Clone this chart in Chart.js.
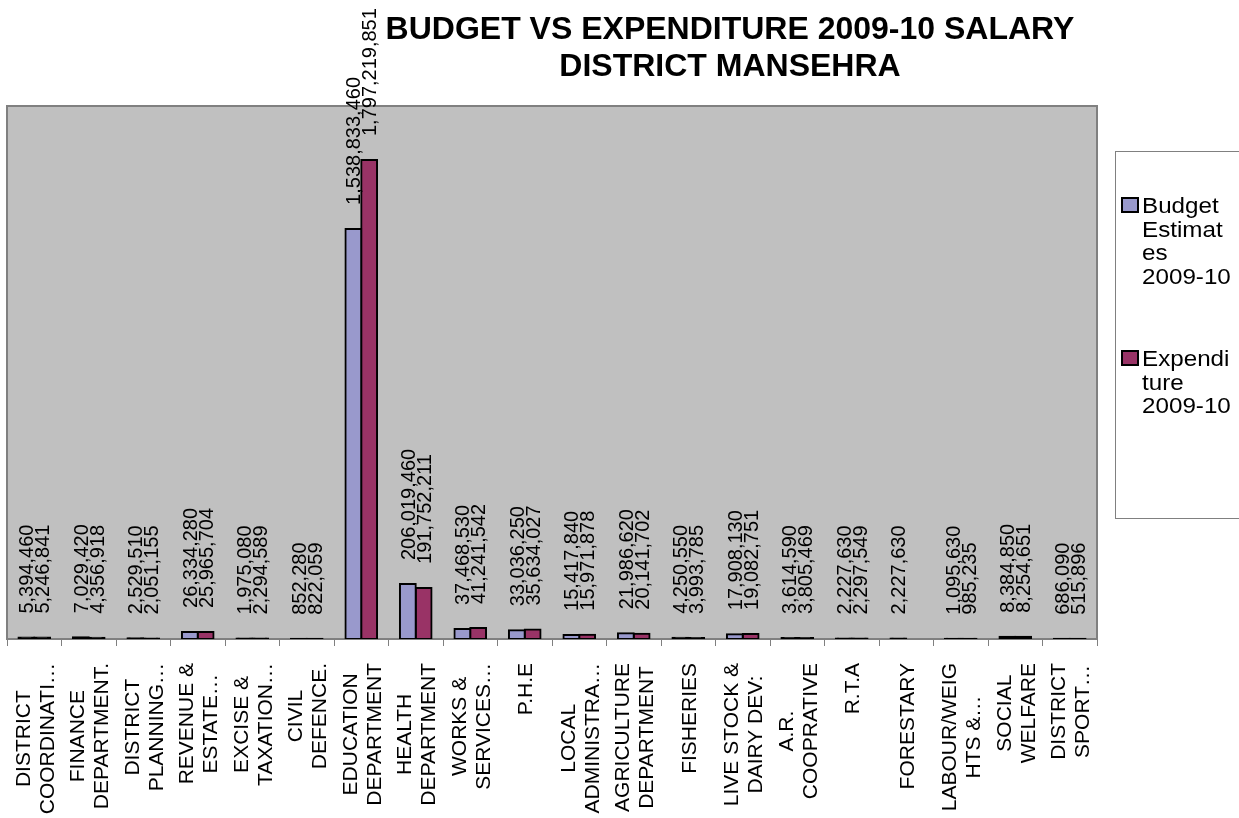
<!DOCTYPE html>
<html>
<head>
<meta charset="utf-8">
<title>Budget vs Expenditure 2009-10 Salary - District Mansehra</title>
<script src="https://cdn.jsdelivr.net/npm/chart.js@4.4.1/dist/chart.umd.min.js"></script>
<style>
    html, body { margin: 0; padding: 0; background: #ffffff; }
    #wrap { width: 1239px; height: 818px; }
</style>
</head>
<body>
<div id="wrap"><canvas id="budgetChart" width="1239" height="818"></canvas></div>
<script>
// department names, already wrapped / shortened the way they are printed under the axis
const departments = [
    ["DISTRICT", "COORDINATI\u2026"],
    ["FINANCE", "DEPARTMENT."],
    ["DISTRICT", "PLANNING\u2026"],
    ["REVENUE &", "ESTATE\u2026"],
    ["EXCISE &", "TAXATION\u2026"],
    ["CIVIL", "DEFENCE."],
    ["EDUCATION", "DEPARTMENT"],
    ["HEALTH", "DEPARTMENT"],
    ["WORKS &", "SERVICES\u2026"],
    ["P.H.E"],
    ["LOCAL", "ADMINISTRA\u2026"],
    ["AGRICULTURE", "DEPARTMENT"],
    ["FISHERIES"],
    ["LIVE STOCK &", "DAIRY DEV:"],
    ["A.R.", "COOPRATIVE"],
    ["R.T.A"],
    ["FORESTARY"],
    ["LABOUR/WEIG", "HTS &\u2026"],
    ["SOCIAL", "WELFARE"],
    ["DISTRICT", "SPORT\u2026"]
];

const budgetEstimates = [
    5394460, 7029420, 2529510, 26334280, 1975080, 852280, 1538833460, 206019460,
    37468530, 33036250, 15417840, 21986620, 4250550, 17908130, 3614590, 2227630,
    2227630, 1095630, 8384850, 686090
];

const expenditure = [
    5246841, 4356918, 2051155, 25965704, 2294589, 822059, 1797219851, 191752211,
    41241542, 35634027, 15971878, 20141702, 3993785, 19082751, 3805469, 2297549,
    null, 985235, 8254651, 515896
];

const seriesNames = ["Budget Estimates 2009-10", "Expenditure 2009-10"];
const seriesColors = ["#9999CC", "#993366"];
const titleLines = ["BUDGET VS EXPENDITURE 2009-10 SALARY", "DISTRICT MANSEHRA"];
const yMax = 2000000000;

const FONT = '"Liberation Sans", Arial, sans-serif';

function fmt(v) {
    return v.toLocaleString("en-US");
}

// bars only a pixel or two high are all outline, so they show up black
function barFill(color) {
    return function (c) {
        const a = c.chart.chartArea;
        if (!a || c.raw == null) return color;
        return (c.raw / yMax) * (a.bottom - a.top) < 3 ? "#000" : color;
    };
}

// split a legend entry into lines no wider than maxW, breaking long words by letter
function wrapText(ctx, text, maxW) {
    const out = [];
    text.split(" ").forEach(function (word) {
        if (out.length && ctx.measureText(out[out.length - 1] + " " + word).width <= maxW) {
            out[out.length - 1] += " " + word;
            return;
        }
        let piece = "";
        for (const ch of word) {
            if (piece && ctx.measureText(piece + ch).width > maxW) {
                out.push(piece);
                piece = "";
            }
            piece += ch;
        }
        out.push(piece);
    });
    return out;
}

// grey plot background with its frame
const plotFrame = {
    id: "plotFrame",
    beforeDraw(chart) {
        const { ctx, chartArea: a } = chart;
        ctx.save();
        ctx.fillStyle = "#C0C0C0";
        ctx.fillRect(a.left, a.top, a.right - a.left, a.bottom - a.top);
        ctx.strokeStyle = "#808080";
        ctx.lineWidth = 2;
        ctx.strokeRect(a.left, a.top, a.right - a.left, a.bottom - a.top);
        ctx.restore();
    }
};

// vertical value labels above each bar
const barValues = {
    id: "barValues",
    afterDatasetsDraw(chart) {
        const ctx = chart.ctx;
        ctx.save();
        ctx.font = "20px " + FONT;
        ctx.fillStyle = "#000";
        ctx.textAlign = "left";
        ctx.textBaseline = "alphabetic";
        chart.data.datasets.forEach(function (ds, i) {
            chart.getDatasetMeta(i).data.forEach(function (bar, j) {
                const v = ds.data[j];
                if (v == null) return;
                ctx.save();
                ctx.translate(bar.x, bar.y - 24);
                ctx.rotate(-Math.PI / 2);
                ctx.fillText(fmt(v), 0, 7);
                ctx.restore();
            });
        });
        ctx.restore();
    }
};

// rotated category names, lines centred on each other
const categoryNames = {
    id: "categoryNames",
    afterDraw(chart) {
        const ctx = chart.ctx;
        const xs = chart.scales.x;
        const top = chart.chartArea.bottom + 24;
        ctx.save();
        ctx.font = "21px " + FONT;
        ctx.fillStyle = "#000";
        ctx.textAlign = "center";
        ctx.textBaseline = "alphabetic";
        departments.forEach(function (lines, i) {
            const x = xs.getPixelForValue(i);
            const len = Math.max.apply(null, lines.map(l => ctx.measureText(l).width));
            lines.forEach(function (line, k) {
                ctx.save();
                ctx.translate(x + (k - (lines.length - 1) / 2) * 24, top + len / 2);
                ctx.rotate(-Math.PI / 2);
                ctx.fillText(line, 0, 7.5);
                ctx.restore();
            });
        });
        ctx.restore();
    }
};

const chartTitle = {
    id: "chartTitle",
    afterDraw(chart) {
        const ctx = chart.ctx;
        ctx.save();
        ctx.font = "bold 32px " + FONT;
        ctx.fillStyle = "#000";
        ctx.textAlign = "center";
        ctx.fillText(titleLines[0], 730, 39);
        ctx.fillText(titleLines[1], 730, 76);
        ctx.restore();
    }
};

// boxed legend on the right, entries wrapped to a narrow column
const sideLegend = {
    id: "sideLegend",
    afterDraw(chart) {
        const ctx = chart.ctx;
        const left = chart.chartArea.right + 18;
        ctx.save();
        ctx.fillStyle = "#fff";
        ctx.fillRect(left, 151, 200, 367);
        ctx.strokeStyle = "#808080";
        ctx.lineWidth = 1;
        ctx.strokeRect(left + 0.5, 151.5, 200, 367);
        ctx.font = "22px " + FONT;
        chart.data.datasets.forEach(function (ds, i) {
            const firstY = 205 + i * 153;
            ctx.fillStyle = seriesColors[i];
            ctx.fillRect(left + 7, firstY - 7, 16, 14);
            ctx.strokeStyle = "#000";
            ctx.lineWidth = 2;
            ctx.strokeRect(left + 7, firstY - 7, 16, 14);
            ctx.fillStyle = "#000";
            wrapText(ctx, ds.label, 83).forEach(function (line, k) {
                ctx.save();
                ctx.translate(left + 27, firstY + k * 23.5 + 8);
                ctx.scale(1.1, 1);
                ctx.fillText(line, 0, 0);
                ctx.restore();
            });
        });
        ctx.restore();
    }
};

const ctx = document.getElementById("budgetChart").getContext("2d");
new Chart(ctx, {
    type: "bar",
    data: {
        labels: departments.map(l => l.join(" ")),
        datasets: [
            {
                label: seriesNames[0],
                data: budgetEstimates,
                backgroundColor: barFill(seriesColors[0]),
                borderColor: "#000",
                borderWidth: 2,
                borderSkipped: false,
                inflateAmount: 1
            },
            {
                label: seriesNames[1],
                data: expenditure,
                backgroundColor: barFill(seriesColors[1]),
                borderColor: "#000",
                borderWidth: 2,
                borderSkipped: false,
                inflateAmount: 1
            }
        ]
    },
    options: {
        responsive: false,
        animation: false,
        devicePixelRatio: 1,
        categoryPercentage: 0.58,
        barPercentage: 1,
        layout: { padding: { left: 7, right: 142, top: 106, bottom: 0 } },
        plugins: {
            legend: { display: false },
            title: { display: false },
            tooltip: { enabled: false }
        },
        scales: {
            x: {
                ticks: { display: false },
                grid: {
                    offset: true,
                    drawOnChartArea: false,
                    drawTicks: true,
                    tickLength: 7,
                    color: "#808080"
                },
                border: { display: true, color: "#808080", width: 1 },
                afterFit(scale) { scale.height = 179; }
            },
            y: {
                display: false,
                min: 0,
                max: yMax
            }
        }
    },
    plugins: [plotFrame, barValues, categoryNames, chartTitle, sideLegend]
});
</script>
</body>
</html>
